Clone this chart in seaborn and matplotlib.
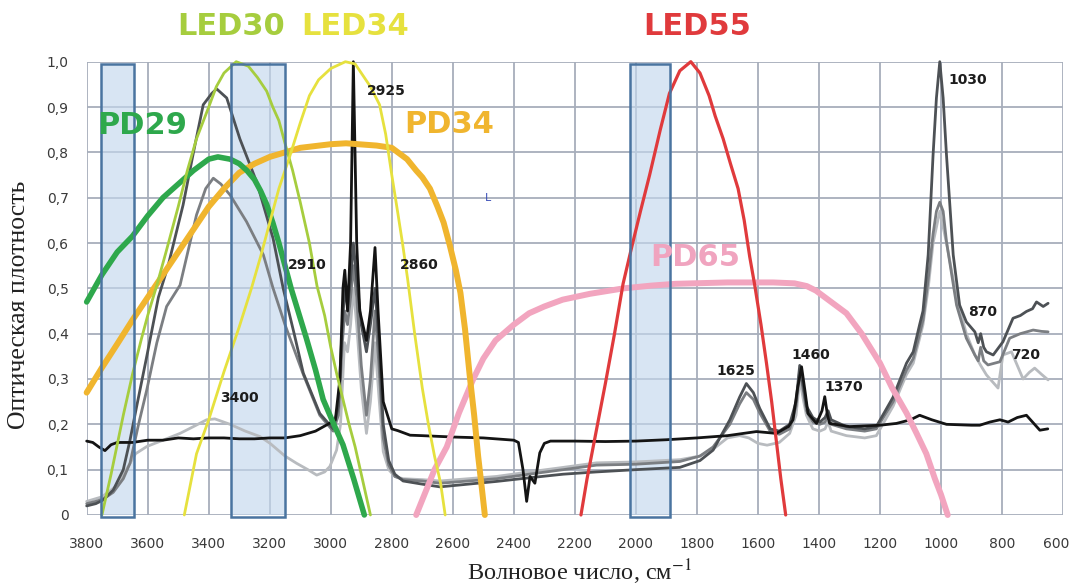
import numpy as np
import pandas as pd
import matplotlib
matplotlib.use("Agg")
import matplotlib.pyplot as plt
import matplotlib.transforms as mtransforms
import seaborn as sns
from matplotlib.patches import Rectangle

# ---------------- data ----------------
x_ticks = [3800, 3600, 3400, 3200, 3000, 2800, 2600, 2400, 2200, 2000, 1800, 1600, 1400, 1200, 1000, 800, 600]
y_ticks = [0, 0.1, 0.2, 0.3, 0.4, 0.5, 0.6, 0.7, 0.8, 0.9, 1.0]
y_tick_labels = ["0", "0,1", "0,2", "0,3", "0,4", "0,5", "0,6", "0,7", "0,8", "0,9", "1,0"]

# shaded bands (wavenumber from, to)
bands = [(3754, 3644), (3327, 3150), (2020, 1887)]

# LED / PD response curves
led30_x = [3750, 3720, 3700, 3680, 3650, 3620, 3600, 3570, 3540, 3500, 3470, 3440, 3400, 3375, 3350, 3310, 3270, 3240,
           3210, 3190, 3170, 3150, 3125, 3100, 3070, 3045, 3020, 3000, 2980, 2960, 2940, 2920, 2900, 2870]
led30_y = [0.0, 0.09, 0.155, 0.22, 0.31, 0.39, 0.44, 0.507, 0.58, 0.68, 0.76, 0.83, 0.90, 0.945, 0.975, 1.0, 0.99, 0.965,
           0.935, 0.90, 0.87, 0.82, 0.76, 0.69, 0.60, 0.505, 0.44, 0.37, 0.31, 0.255, 0.20, 0.15, 0.09, 0.0]

led34_x = [3480, 3440, 3400, 3350, 3300, 3260, 3230, 3200, 3170, 3135, 3100, 3070, 3040, 3000, 2952, 2920, 2900, 2870,
           2840, 2820, 2800, 2780, 2765, 2748, 2725, 2700, 2680, 2660, 2640, 2625]
led34_y = [0.0, 0.135, 0.21, 0.316, 0.415, 0.50, 0.57, 0.645, 0.72, 0.79, 0.865, 0.925, 0.96, 0.985, 1.0, 0.995, 0.975, 0.945,
           0.905, 0.84, 0.75, 0.665, 0.60, 0.52, 0.40, 0.28, 0.20, 0.13, 0.07, 0.0]

led55_x = [2180, 2160, 2140, 2120, 2100, 2070, 2042, 2014, 1985, 1955, 1920, 1890, 1856, 1820, 1790, 1760, 1740, 1714,
           1690, 1665, 1645, 1627, 1610, 1590, 1572, 1555, 1540, 1525, 1509]
led55_y = [0.0, 0.08, 0.15, 0.22, 0.29, 0.40, 0.51, 0.59, 0.67, 0.75, 0.85, 0.93, 0.98, 1.0, 0.975, 0.925, 0.88, 0.83,
           0.775, 0.72, 0.65, 0.57, 0.505, 0.42, 0.335, 0.25, 0.165, 0.08, 0.0]

pd29_x = [3800, 3750, 3700, 3650, 3600, 3550, 3500, 3450, 3400, 3370, 3330, 3300, 3275, 3250, 3230, 3210, 3190, 3170, 3150,
          3130, 3105, 3080, 3050, 3025, 2990, 2960, 2925, 2890]
pd29_y = [0.47, 0.53, 0.58, 0.615, 0.66, 0.70, 0.73, 0.76, 0.785, 0.79, 0.785, 0.775, 0.76, 0.74, 0.715, 0.685, 0.645, 0.60, 0.55,
          0.50, 0.445, 0.39, 0.32, 0.255, 0.20, 0.155, 0.08, 0.0]

pd34_x = [3800, 3750, 3700, 3650, 3600, 3550, 3500, 3450, 3400, 3350, 3300, 3250, 3200, 3100, 3000, 2950, 2850, 2800, 2780,
          2750, 2720, 2700, 2675, 2650, 2630, 2610, 2590, 2575, 2560, 2545, 2530, 2517, 2505, 2495]
pd34_y = [0.27, 0.325, 0.377, 0.43, 0.48, 0.53, 0.58, 0.63, 0.68, 0.72, 0.755, 0.775, 0.79, 0.81, 0.818, 0.82, 0.815, 0.81, 0.80,
          0.785, 0.76, 0.745, 0.72, 0.68, 0.645, 0.595, 0.54, 0.49, 0.41, 0.31, 0.22, 0.13, 0.06, 0.0]

pd65_x = [2720, 2690, 2660, 2620, 2580, 2533, 2500, 2460, 2400, 2350, 2300, 2240, 2150, 2040, 1950, 1870, 1700, 1550, 1480,
          1440, 1410, 1380, 1350, 1310, 1260, 1200, 1160, 1113, 1080, 1048, 1020, 1000, 978]
pd65_y = [0.0, 0.05, 0.10, 0.15, 0.225, 0.30, 0.345, 0.385, 0.42, 0.445, 0.46, 0.475, 0.488, 0.50, 0.506, 0.51, 0.513, 0.513, 0.511,
          0.505, 0.495, 0.48, 0.465, 0.445, 0.40, 0.335, 0.28, 0.225, 0.18, 0.135, 0.08, 0.045, 0.0]

# IR spectra
black_x = [3800, 3780, 3760, 3740, 3720, 3700, 3650, 3600, 3550, 3500, 3450, 3400, 3350, 3300, 3250, 3200, 3150, 3100, 3050,
           3010, 2985, 2970, 2960, 2954, 2945, 2935, 2926, 2915, 2905, 2895, 2883, 2870, 2855, 2845, 2828, 2800, 2780, 2740,
           2700, 2600, 2500, 2400, 2385, 2370, 2358, 2347, 2331, 2315, 2300, 2280, 2200, 2100, 2000, 1900, 1800, 1700, 1605,
           1540, 1500, 1485, 1470, 1457, 1445, 1436, 1408, 1390, 1381, 1372, 1365, 1300, 1200, 1146, 1100, 1070, 1030, 982,
           900, 873, 840, 807, 780, 750, 720, 700, 676, 650]
black_y = [0.163, 0.16, 0.15, 0.142, 0.155, 0.16, 0.16, 0.165, 0.165, 0.17, 0.168, 0.17, 0.17, 0.168, 0.168, 0.17, 0.17, 0.175, 0.185,
           0.20, 0.21, 0.30, 0.50, 0.54, 0.45, 0.60, 1.0, 0.60, 0.45, 0.42, 0.385, 0.45, 0.59, 0.45, 0.25, 0.19, 0.186, 0.176,
           0.175, 0.172, 0.17, 0.165, 0.16, 0.10, 0.03, 0.085, 0.07, 0.137, 0.158, 0.163, 0.163, 0.162, 0.163, 0.166, 0.17, 0.175, 0.184,
           0.18, 0.195, 0.21, 0.28, 0.327, 0.27, 0.224, 0.202, 0.23, 0.261, 0.22, 0.202, 0.195, 0.198, 0.202, 0.21, 0.22, 0.21, 0.20,
           0.198, 0.198, 0.205, 0.21, 0.205, 0.215, 0.22, 0.205, 0.187, 0.19]

dark_x = [3800, 3770, 3746, 3713, 3680, 3658, 3636, 3603, 3565, 3533, 3484, 3450, 3418, 3390, 3374, 3341, 3298, 3243, 3189, 3156,
          3120, 3090, 3036, 2992, 2975, 2962, 2954, 2945, 2935, 2926, 2915, 2900, 2883, 2870, 2855, 2842, 2828, 2810, 2790, 2763,
          2700, 2642, 2550, 2457, 2350, 2238, 2129, 2000, 1856, 1790, 1747, 1692, 1660, 1638, 1615, 1594, 1560, 1530, 1496, 1475,
          1463, 1450, 1441, 1420, 1397, 1380, 1370, 1360, 1310, 1250, 1212, 1157, 1113, 1091, 1070, 1059, 1042, 1026, 1015, 1004,
          993, 982, 960, 939, 917, 889, 878, 870, 860, 851, 829, 797, 764, 740, 720, 700, 687, 665, 649]
dark_y = [0.02, 0.025, 0.033, 0.055, 0.10, 0.165, 0.24, 0.35, 0.48, 0.55, 0.684, 0.80, 0.905, 0.93, 0.94, 0.92, 0.83, 0.735, 0.61, 0.50,
          0.40, 0.313, 0.224, 0.19, 0.24, 0.42, 0.50, 0.46, 0.52, 0.60, 0.52, 0.42, 0.36, 0.42, 0.50, 0.38, 0.20, 0.12, 0.09, 0.075,
          0.068, 0.062, 0.068, 0.074, 0.082, 0.09, 0.095, 0.10, 0.105, 0.12, 0.143, 0.21, 0.26, 0.29, 0.27, 0.235, 0.19, 0.185, 0.20, 0.25,
          0.33, 0.28, 0.24, 0.215, 0.205, 0.215, 0.23, 0.21, 0.195, 0.19, 0.195, 0.26, 0.335, 0.36, 0.42, 0.45, 0.574, 0.794, 0.92, 1.0,
          0.92, 0.794, 0.574, 0.463, 0.426, 0.404, 0.38, 0.40, 0.37, 0.36, 0.353, 0.382, 0.434, 0.44, 0.449, 0.455, 0.47, 0.46, 0.467]

mid_x = [3800, 3770, 3746, 3713, 3680, 3658, 3630, 3603, 3570, 3538, 3494, 3440, 3410, 3385, 3360, 3330, 3276, 3221, 3189, 3150,
         3090, 3036, 2992, 2975, 2962, 2954, 2945, 2935, 2926, 2915, 2900, 2883, 2870, 2855, 2842, 2828, 2810, 2790, 2763, 2700,
         2642, 2550, 2457, 2350, 2238, 2129, 2000, 1856, 1790, 1747, 1692, 1660, 1638, 1615, 1594, 1560, 1530, 1496, 1475, 1463,
         1450, 1441, 1420, 1397, 1380, 1370, 1360, 1310, 1250, 1212, 1157, 1113, 1091, 1070, 1059, 1042, 1026, 1015, 1004, 993,
         982, 949, 917, 889, 878, 870, 860, 846, 807, 775, 740, 698, 670, 649]
mid_y = [0.025, 0.03, 0.035, 0.05, 0.08, 0.114, 0.20, 0.276, 0.38, 0.46, 0.507, 0.662, 0.72, 0.743, 0.73, 0.706, 0.647, 0.574, 0.50, 0.42,
         0.31, 0.22, 0.185, 0.22, 0.38, 0.45, 0.42, 0.48, 0.55, 0.48, 0.33, 0.22, 0.30, 0.45, 0.33, 0.17, 0.11, 0.085, 0.078, 0.075,
         0.07, 0.075, 0.08, 0.09, 0.10, 0.11, 0.112, 0.118, 0.13, 0.15, 0.20, 0.245, 0.27, 0.255, 0.225, 0.185, 0.178, 0.19, 0.24, 0.32,
         0.27, 0.23, 0.205, 0.20, 0.205, 0.22, 0.20, 0.19, 0.185, 0.19, 0.25, 0.32, 0.345, 0.40, 0.43, 0.52, 0.62, 0.67, 0.69, 0.67,
         0.603, 0.463, 0.39, 0.353, 0.34, 0.37, 0.34, 0.331, 0.338, 0.39, 0.40, 0.408, 0.405, 0.404]

light_x = [3800, 3750, 3700, 3670, 3640, 3603, 3550, 3494, 3450, 3407, 3380, 3330, 3280, 3232, 3199, 3150, 3112, 3075, 3046, 3020,
           3003, 2981, 2968, 2955, 2945, 2935, 2926, 2915, 2900, 2883, 2870, 2855, 2842, 2828, 2810, 2790, 2763, 2700, 2642, 2550,
           2457, 2350, 2238, 2129, 2000, 1856, 1790, 1747, 1700, 1660, 1630, 1600, 1570, 1530, 1496, 1475, 1463, 1450, 1441, 1420,
           1397, 1380, 1370, 1360, 1310, 1250, 1212, 1157, 1113, 1091, 1070, 1059, 1042, 1026, 1004, 982, 949, 917, 889, 870,
           851, 813, 797, 769, 750, 731, 710, 693, 670, 649]
light_y = [0.03, 0.04, 0.065, 0.10, 0.135, 0.151, 0.165, 0.18, 0.195, 0.21, 0.212, 0.20, 0.185, 0.173, 0.158, 0.13, 0.114, 0.10, 0.088, 0.095,
           0.107, 0.143, 0.20, 0.38, 0.36, 0.42, 0.50, 0.42, 0.28, 0.18, 0.25, 0.38, 0.26, 0.14, 0.10, 0.085, 0.08, 0.078, 0.075, 0.08,
           0.085, 0.095, 0.105, 0.115, 0.117, 0.122, 0.13, 0.145, 0.17, 0.175, 0.17, 0.158, 0.154, 0.16, 0.18, 0.22, 0.30, 0.25, 0.22, 0.19,
           0.185, 0.19, 0.205, 0.185, 0.175, 0.17, 0.175, 0.24, 0.31, 0.335, 0.39, 0.42, 0.50, 0.60, 0.67, 0.60, 0.48, 0.40, 0.353, 0.33,
           0.309, 0.28, 0.353, 0.36, 0.33, 0.30, 0.315, 0.324, 0.31, 0.298]

# text labels: (text, x, y)
series_labels = [("LED30", 3327, 1.077, "#a6cd3e"), ("LED34", 2921, 1.077, "#e6e13e"), ("LED55", 1800, 1.077, "#e03a3c"),
                 ("PD29", 3619, 0.86, "#2ea84c"), ("PD34", 2613, 0.861, "#f0b52e"), ("PD65", 1804, 0.568, "#f0a4bf")]
peak_labels = [("2925", 2882, 0.935), ("2910", 3139, 0.5515), ("2860", 2773, 0.5515), ("3400", 3363, 0.258),
               ("1625", 1736, 0.3166), ("1460", 1490, 0.353), ("1370", 1381, 0.283), ("1030", 977, 0.96),
               ("870", 911, 0.4485), ("720", 769, 0.353)]

# ---------------- drawing ----------------
sns.set_style("white")
plt.rcParams['font.family'] = ['DejaVu Sans']
plt.rcParams['mathtext.fontset'] = 'stix'

fig = plt.figure(figsize=(10.7, 5.86), dpi=100)
ax = fig.add_axes([0.081, 0.1212, 0.9125, 0.7735])

ax.set_xlim(3800, 600)
ax.set_ylim(0, 1.0)
ax.set_xticks(x_ticks)
ax.set_xticklabels([str(t) for t in x_ticks])
ax.set_yticks(y_ticks)
ax.set_yticklabels(y_tick_labels)
ax.grid(True, color="#a7aebb", linewidth=1.3)
ax.set_axisbelow(True)
for s in ax.spines.values():
    s.set_visible(False)
ax.tick_params(axis="both", length=0, labelsize=10, labelcolor="#3a3a3a")
ax.tick_params(axis="y", pad=13)
ax.tick_params(axis="x", pad=16)
last = ax.get_xticklabels()[-1]
last.set_ha("right")
last.set_transform(last.get_transform() + mtransforms.ScaledTranslation(0.06, 0, fig.dpi_scale_trans))

# shaded bands
for x0, x1 in bands:
    ax.add_patch(Rectangle((x1, 0), x0 - x1, 0.995, facecolor="#c4d8ed", alpha=0.65,
                           edgecolor="none", zorder=1.5, clip_on=False))
    ax.add_patch(Rectangle((x1, -0.005), x0 - x1, 1.0, fill=False, edgecolor="#4a74a0",
                           linewidth=1.8, zorder=8, clip_on=False))

def draw(xs, ys, color, lw, z):
    sns.lineplot(x=xs, y=ys, ax=ax, color=color, linewidth=lw, estimator=None,
                 sort=False, legend=False, zorder=z, clip_on=False)

# spectra
draw(light_x, light_y, "#b8bbbf", 2.0, 3)
draw(mid_x, mid_y, "#7b7e82", 2.0, 3.2)
draw(dark_x, dark_y, "#4d5155", 2.0, 3.4)
draw(black_x, black_y, "#141414", 2.0, 3.6)

# LED / PD curves
draw(pd65_x, pd65_y, "#f2a5bf", 4.3, 4)
draw(pd34_x, pd34_y, "#f0b52e", 4.3, 4.1)
draw(pd29_x, pd29_y, "#2ea84c", 4.0, 4.2)
draw(led30_x, led30_y, "#a6cd3e", 2.0, 4.3)
draw(led34_x, led34_y, "#e6e13e", 2.0, 4.4)
draw(led55_x, led55_y, "#e03a3c", 2.3, 4.5)

for txt, x, y, c in series_labels:
    ax.text(x, y, txt, color=c, fontsize=22, fontweight="bold", ha="center", va="center", zorder=9)

for txt, x, y in peak_labels:
    ax.text(x, y, txt, color="#1c1c1c", fontsize=10, fontweight="bold", ha="left", va="center", zorder=9)

ax.text(2486, 0.699, "L", color="#3b4fb8", fontsize=8, ha="center", va="center", zorder=9)

ax.set_ylabel("Оптическая плотность", fontfamily="Liberation Serif", fontsize=18.5, color="#222222")
ax.set_xlabel("Волновое число, см$^{-1}$", fontfamily="Liberation Serif", fontsize=17.5, color="#222222")
ax.yaxis.set_label_coords(-0.058, 0.463)
ax.xaxis.set_label_coords(0.505, -0.094)

fig.savefig("out.png", dpi=100)
